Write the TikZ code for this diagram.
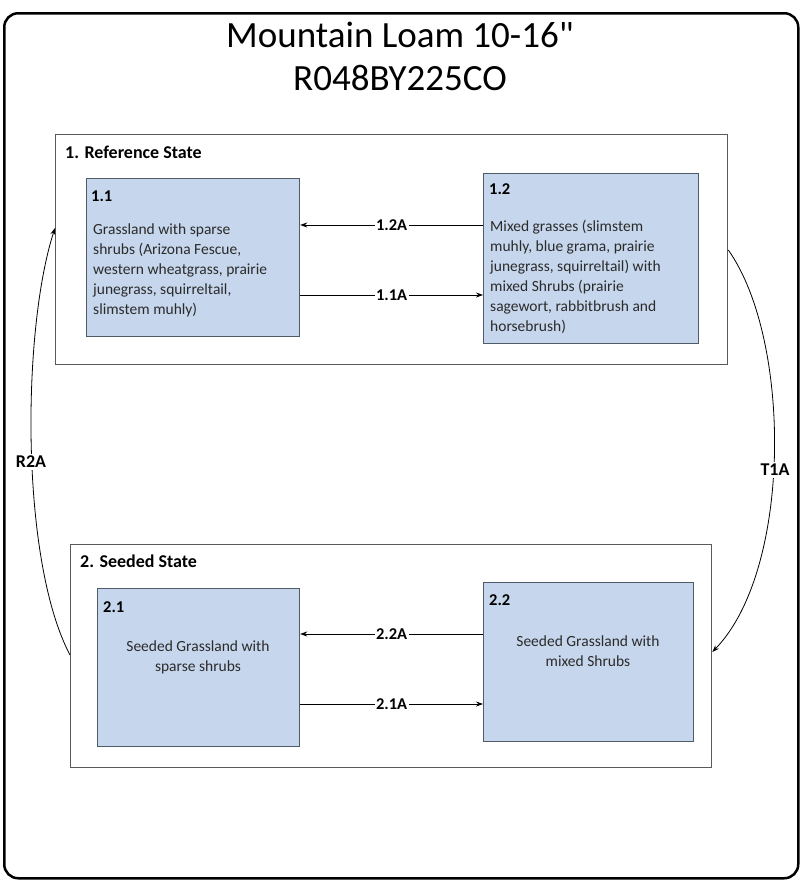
\documentclass[tikz,border=0pt]{standalone}
\usepackage{fontspec}
\setmainfont{Carlito}
\newfontfamily\titlefont{Carlito}[Ligatures=TeXOff]
\usetikzlibrary{arrows.meta,calc}
\definecolor{boxfill}{HTML}{C6D6EC}
\definecolor{boxline}{HTML}{4F5B66}
\definecolor{stateline}{HTML}{5A5A5A}
\definecolor{txt}{HTML}{2B2B2B}
\begin{document}
\begin{tikzpicture}[x=1pt,y=-1pt,
  stateframe/.style={draw=stateline, line width=1.3pt, fill=white, inner sep=0pt, anchor=north west},
  phasebox/.style={draw=boxline, line width=1.2pt, fill=boxfill, inner sep=0pt, anchor=north west},
  statelabel/.style={font=\fontsize{18}{20}\selectfont\bfseries, anchor=west, inner sep=0pt},
  numlabel/.style={font=\fontsize{16.5}{20}\selectfont\bfseries, anchor=west, inner sep=0pt},
  bodytext/.style={font=\fontsize{15.5}{20}\selectfont, text=txt, inner sep=0pt},
  conn/.style={draw=black, line width=0.8pt, -{Stealth[length=7pt,width=5pt]}},
  connlabel/.style={fill=white, inner sep=1.5pt, font=\fontsize{16.5}{18}\selectfont\bfseries},
  translabel/.style={fill=white, inner sep=2pt, font=\fontsize{18}{20}\selectfont\bfseries}
]
\useasboundingbox (0,0) rectangle (800,881);
\fill[white] (0,0) rectangle (800,881);
\node[draw=black, line width=2.5pt, rounded corners=14pt, anchor=north west, inner sep=0pt,
  minimum width=794pt, minimum height=865pt] (outer) at (3,12) {};
\node[font=\titlefont\fontsize{37}{43}\selectfont, align=center] (title) at (400,56) {Mountain Loam 10-16{\char"22}\\R048BY225CO};

% state 1
\node[stateframe, minimum width=672pt, minimum height=230pt] (s1) at (55,134) {};
\node[statelabel] (s1lab) at (65,152) {1. Reference State};
\node[phasebox, minimum width=213pt, minimum height=158pt] (b11) at (86,178) {};
\node[numlabel] (n11) at (91,196) {1.1};
\node[bodytext, anchor=north west, align=left] (t11) at (93,224) {Grassland with sparse\\shrubs (Arizona Fescue,\\western wheatgrass, prairie\\junegrass, squirreltail,\\slimstem muhly)};
\node[phasebox, minimum width=215pt, minimum height=170pt] (b12) at (483,173) {};
\node[numlabel] (n12) at (489,189) {1.2};
\node[bodytext, anchor=north west, align=left] (t12) at (490,220) {Mixed grasses (slimstem\\muhly, blue grama, prairie\\junegrass, squirreltail) with\\mixed Shrubs (prairie\\sagewort, rabbitbrush and\\horsebrush)};

% state 2
\node[stateframe, minimum width=641pt, minimum height=223pt] (s2) at (70,544) {};
\node[statelabel] (s2lab) at (80,561) {2. Seeded State};
\node[phasebox, minimum width=202pt, minimum height=158pt] (b21) at (97,588) {};
\node[numlabel] (n21) at (103,607) {2.1};
\node[bodytext, align=center] (t21) at (198,657) {Seeded Grassland with\\sparse shrubs};
\node[phasebox, minimum width=210pt, minimum height=159pt] (b22) at (483,582) {};
\node[numlabel] (n22) at (489,600) {2.2};
\node[bodytext, align=center] (t22) at (588,651) {Seeded Grassland with\\mixed Shrubs};

% pathways within states
\draw[conn] (b12.west |- 0,225) -- node[connlabel] {1.2A} (b11.east |- 0,225);
\draw[conn] (b11.east |- 0,295) -- node[connlabel] {1.1A} (b12.west |- 0,295);
\draw[conn] (b22.west |- 0,634) -- node[connlabel] {2.2A} (b21.east |- 0,634);
\draw[conn] (b21.east |- 0,704) -- node[connlabel] {2.1A} (b22.west |- 0,704);

% transitions
\coordinate (r2start) at (s2.west |- 0,655);
\coordinate (r2end) at (s1.west |- 0,228);
\draw[conn] (r2start) .. controls (20,560) and (22,330) .. (r2end);
\node[translabel] (r2a) at (31,462) {R2A};
\coordinate (t1start) at (s1.east |- 0,250);
\coordinate (t1end) at (s2.east |- 0,652);
\draw[conn] (t1start) .. controls (792,340) and (792,570) .. (t1end);
\node[translabel] (t1a) at (775,470) {T1A};
\end{tikzpicture}
\end{document}
